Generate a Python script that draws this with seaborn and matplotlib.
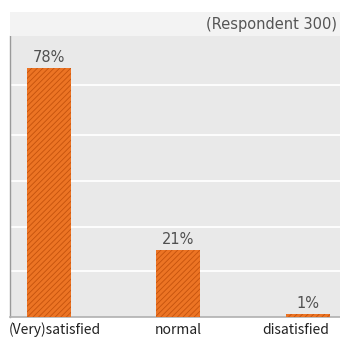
import matplotlib
matplotlib.use("Agg")
import matplotlib.pyplot as plt
from matplotlib.patches import Rectangle
from matplotlib.transforms import ScaledTranslation
import seaborn as sns
import pandas as pd

categories = ["(Very)satisfied", "normal", "disatisfied"]
shares = [78, 21, 1]
value_labels = ["78%", "21%", "1%"]
note = "(Respondent 300)"

sns.set_theme(style="white")
plt.rcParams["font.family"] = ["Noto Sans CJK KR", "DejaVu Sans"]
plt.rcParams["hatch.color"] = "#c4520c"
plt.rcParams["hatch.linewidth"] = 0.6

W, H = 340, 342
TOP, BOTTOM = 36, 317
fig = plt.figure(figsize=(W / 100, H / 100), dpi=100)
fig.patch.set_facecolor("white")

# header band above the plotting area
fig.patches.append(Rectangle((10 / W, 1 - TOP / H), 1 - 10 / W, (TOP - 12) / H,
                             transform=fig.transFigure, facecolor="#f3f3f3",
                             edgecolor="none", zorder=0))
fig.text(337 / W, 1 - 24 / H, note, ha="right", va="center",
         fontsize=10.5, color="#555555", family="DejaVu Sans")

ax = fig.add_axes([10 / W, 1 - BOTTOM / H, 1 - 10 / W, (BOTTOM - TOP) / H])
ax.set_facecolor("#e9e9e9")

df = pd.DataFrame({"category": categories, "share": shares})
sns.barplot(data=df, x="category", y="share", color="#ec7424",
            width=0.34, saturation=1, ax=ax, zorder=3)
for bar in ax.patches:
    bar.set_hatch("//////")
    bar.set_edgecolor("#c4520c")
    bar.set_linewidth(0)

ymax = 88
ax.set_xlim(-0.3, 2.25)
ax.set_ylim(0, ymax)
# white guide lines across the panel
grid_px = [271, 227, 181, 135, 85]
ax.set_yticks([(BOTTOM - p) / (BOTTOM - TOP) * ymax for p in grid_px])
ax.yaxis.grid(True, color="white", linewidth=1.3, zorder=1)
ax.set_yticklabels([])
ax.tick_params(axis="y", length=0)
ax.tick_params(axis="x", length=0, pad=4)
# nudge the outer category names so they stay inside the figure
shifts = [6, 0, -12]
for t, dx in zip(ax.get_xticklabels(), shifts):
    t.set_fontsize(10)
    t.set_color("#222222")
    t.set_transform(t.get_transform() + ScaledTranslation(dx / 100, 0, fig.dpi_scale_trans))
ax.set_xlabel("")
ax.set_ylabel("")

for i, (v, lab) in enumerate(zip(shares, value_labels)):
    ax.annotate(lab, (i, v), xytext=(0, 2), textcoords="offset points",
                ha="center", va="bottom", fontsize=10.5, color="#505050",
                family="DejaVu Sans")

for s in ["top", "right"]:
    ax.spines[s].set_visible(False)
ax.spines["left"].set_color("#9a9a9a")
ax.spines["left"].set_linewidth(1)
ax.spines["bottom"].set_color("#b0b0b0")
ax.spines["bottom"].set_linewidth(1.2)

fig.savefig("out.png", dpi=100)
